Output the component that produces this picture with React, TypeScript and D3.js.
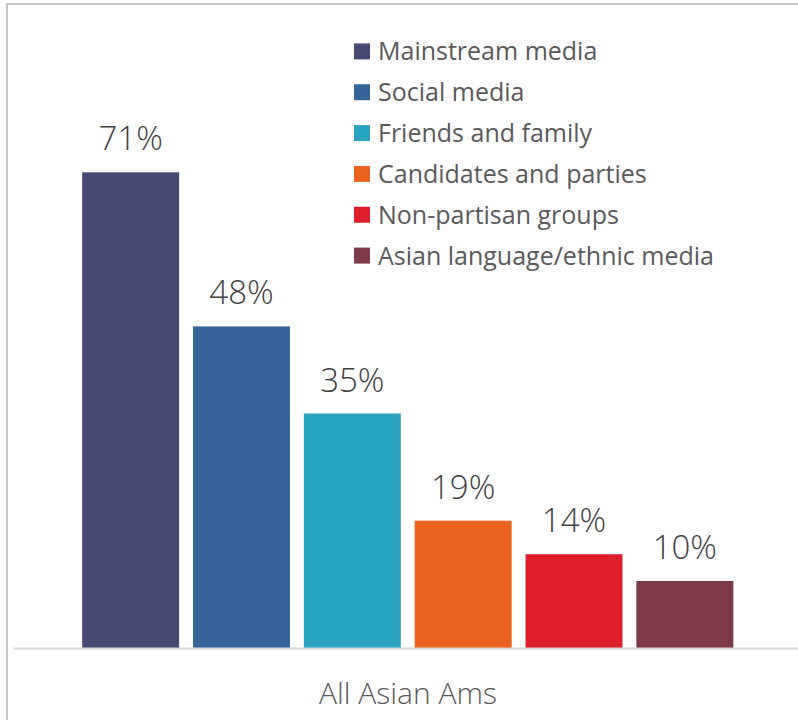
import { useEffect, useRef } from 'react';
import * as d3 from 'd3';

const categories = [
  'Mainstream media',
  'Social media',
  'Friends and family',
  'Candidates and parties',
  'Non-partisan groups',
  'Asian language/ethnic media'
];
const values = [71, 48, 35, 19, 14, 10];
const colors = ['#464A73', '#38649C', '#2BA4C1', '#EA641F', '#DC1F2A', '#7D3B4A'];
const groupLabel = 'All Asian Ams';

export default function App() {
  const svgRef = useRef<SVGSVGElement>(null);

  useEffect(() => {
    if (!svgRef.current) return;
    const svg = d3.select(svgRef.current);
    svg.selectAll('*').remove();

    const W = 798;
    const H = 720;
    const font = "'Open Sans', 'Liberation Sans', sans-serif";
    const textColor = '#595959';

    svg.attr('width', W).attr('height', H);

    // chart frame (only left & top visible in the crop)
    svg.append('rect').attr('x', 0).attr('y', 0).attr('width', W).attr('height', H).attr('fill', '#fff');
    svg.append('rect')
      .attr('x', 7).attr('y', 4)
      .attr('width', W + 10).attr('height', H + 10)
      .attr('fill', 'none').attr('stroke', '#b3b3b3').attr('stroke-width', 1.5);

    // Scales
    const xScale = d3.scaleBand<string>()
      .domain(categories)
      .range([75.5, 740])
      .paddingInner(0.125)
      .paddingOuter(0.06);

    const yScale = d3.scaleLinear().domain([0, 80]).range([648, 112]);

    // Bars
    svg.selectAll('.bar')
      .data(values)
      .enter()
      .append('rect')
      .attr('class', 'bar')
      .attr('x', (_, i) => xScale(categories[i])!)
      .attr('y', (d) => yScale(d))
      .attr('width', xScale.bandwidth())
      .attr('height', (d) => yScale(0) - yScale(d))
      .attr('fill', (_, i) => colors[i]);

    // Value labels
    svg.selectAll('.val')
      .data(values)
      .enter()
      .append('text')
      .attr('class', 'val')
      .attr('x', (_, i) => xScale(categories[i])! + xScale.bandwidth() / 2)
      .attr('y', (d) => yScale(d) - 22)
      .attr('text-anchor', 'middle')
      .attr('font-family', font)
      .attr('font-weight', 300)
      .attr('font-size', 33)
      .attr('fill', '#404040')
      .text((d) => `${d}%`);

    // Axis line
    svg.append('line')
      .attr('x1', 14).attr('x2', W)
      .attr('y1', yScale(0) + 0.5).attr('y2', yScale(0) + 0.5)
      .attr('stroke', '#d9d9d9').attr('stroke-width', 2);

    // Category label
    svg.append('text')
      .attr('x', 408)
      .attr('y', 704)
      .attr('text-anchor', 'middle')
      .attr('font-family', font)
      .attr('font-weight', 300)
      .attr('font-size', 30)
      .attr('fill', textColor)
      .text(groupLabel);

    // Legend
    const legendY = d3.scaleBand<string>().domain(categories).range([31, 276]);
    const lg = svg.append('g');
    categories.forEach((c, i) => {
      const cy = legendY(c)! + legendY.bandwidth() / 2;
      lg.append('rect')
        .attr('x', 354).attr('y', cy - 8)
        .attr('width', 16).attr('height', 16)
        .attr('fill', colors[i]);
      lg.append('text')
        .attr('x', 378).attr('y', cy + 9)
        .attr('font-family', font)
        .attr('font-size', 25)
        .attr('fill', textColor)
        .text(c);
    });
  }, []);

  return (
    <svg ref={svgRef} style={{ position: 'absolute', left: 0, top: 0, display: 'block' }} />
  );
}
